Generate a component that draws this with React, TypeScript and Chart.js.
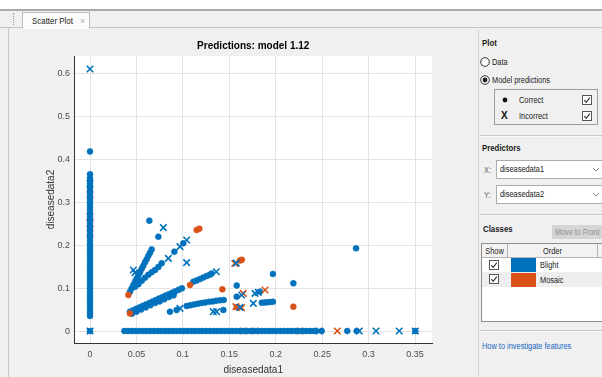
import React, { useEffect, useRef } from "react";
import { Chart, registerables } from "chart.js";
Chart.register(...registerables);

const BLUE = "#0072BD";
const ORANGE = "#D95319";
const FONT = '"Liberation Sans", Arial, Helvetica, sans-serif';

const chartTitle = "Predictions: model 1.12";
const xLabel = "diseasedata1";
const yLabel = "diseasedata2";
const xTicks = [0, 0.05, 0.1, 0.15, 0.2, 0.25, 0.3, 0.35];
const yTicks = [0, 0.1, 0.2, 0.3, 0.4, 0.5, 0.6];
const xRange = [-0.0167, 0.3683];
const yRange = [-0.0279, 0.6403];

// Blight, correct: the column at disease data1 = 0
const columnBlightY = [0, 0.035, 0.042, 0.049, 0.056, 0.063, 0.07, 0.077, 0.084, 0.091, 0.098, 0.105, 0.112, 0.119, 0.126, 0.133, 0.14, 0.147, 0.154, 0.161, 0.168, 0.175, 0.182, 0.189, 0.196, 0.203, 0.21, 0.217, 0.224, 0.231, 0.238, 0.245, 0.252, 0.259, 0.266, 0.273, 0.28, 0.287, 0.294, 0.301, 0.308, 0.315, 0.322, 0.329, 0.336, 0.343, 0.35, 0.356, 0.365, 0.418];
// Mosaic, incorrect: hidden within the column
const columnMosaicY = [0.227, 0.25, 0.266, 0.318];
// Blight, correct: the band at disease data2 = 0
const bandBlightX = [0.037, 0.041, 0.045, 0.049, 0.053, 0.057, 0.061, 0.065, 0.069, 0.073, 0.077, 0.081, 0.085, 0.089, 0.093, 0.097, 0.101, 0.105, 0.109, 0.113, 0.117, 0.121, 0.125, 0.129, 0.133, 0.137, 0.141, 0.145, 0.149, 0.153, 0.157, 0.161, 0.165, 0.169, 0.173, 0.177, 0.181, 0.185, 0.189, 0.193, 0.197, 0.201, 0.205, 0.209, 0.213, 0.217, 0.221, 0.225, 0.229, 0.233, 0.237, 0.241, 0.2435, 0.2495, 0.277, 0.2872, 0.3503];
// Mosaic, incorrect: mostly hidden in the band at disease data2 = 0
const bandMosaicX = [0.165, 0.178, 0.226];

// Blight, correct: other points [x, y]
const blightCorrect: [number, number][] = [
  [0.0431, 0.0916], [0.0449, 0.0993], [0.0467, 0.107], [0.0485, 0.115], [0.0503, 0.122], [0.0521, 0.13], [0.0539, 0.137], [0.0557, 0.145], [0.0574, 0.152], [0.0592, 0.16], [0.061, 0.167], [0.0628, 0.175], [0.0646, 0.182], [0.0664, 0.19], [0.0736, 0.2196], [0.0639, 0.257],
  [0.0485, 0.1033], [0.0521, 0.109], [0.0557, 0.117], [0.0592, 0.124], [0.0628, 0.131], [0.0664, 0.137], [0.07, 0.142], [0.0736, 0.149], [0.0772, 0.1576], [0.0908, 0.1847], [0.1005, 0.2041],
  [0.043, 0.045], [0.0465, 0.0484], [0.05, 0.0518], [0.0535, 0.0552], [0.057, 0.0586], [0.0605, 0.062], [0.064, 0.0654], [0.0675, 0.0688], [0.071, 0.0722], [0.0745, 0.0756], [0.078, 0.079], [0.0815, 0.0824], [0.085, 0.0858], [0.0885, 0.0892], [0.092, 0.0926], [0.0955, 0.096], [0.099, 0.0994],
  [0.045, 0.04], [0.05, 0.045], [0.055, 0.05], [0.06, 0.055], [0.065, 0.06], [0.07, 0.065], [0.075, 0.069], [0.08, 0.074], [0.085, 0.079], [0.09, 0.083],
  [0.1113, 0.1148], [0.1149, 0.1178], [0.1185, 0.121], [0.122, 0.1245], [0.1256, 0.128], [0.129, 0.131], [0.131, 0.134],
  [0.0861, 0.045], [0.0933, 0.0489], [0.1041, 0.0582], [0.108, 0.06], [0.112, 0.062], [0.116, 0.0635], [0.12, 0.065], [0.124, 0.0665], [0.128, 0.068], [0.132, 0.069], [0.136, 0.0705], [0.14, 0.0715], [0.144, 0.0722], [0.1436, 0.0489],
  [0.158, 0.106], [0.158, 0.08], [0.183, 0.0916], [0.197, 0.1327], [0.219, 0.111], [0.2865, 0.1925], [0.185, 0.066], [0.188, 0.0665], [0.191, 0.067], [0.194, 0.0675], [0.197, 0.068],
];
// Mosaic, correct: other points
const mosaicCorrect: [number, number][] = [
  [0.0413, 0.0838], [0.043, 0.041], [0.1149, 0.2352], [0.1177, 0.2383], [0.1077, 0.107], [0.1425, 0.097], [0.1615, 0.164], [0.1635, 0.166], [0.219, 0.0567], [0.158, 0.0555],
];
// Blight, incorrect
const blightIncorrect: [number, number][] = [
  [0, 0.61], [0, 0], [0, 0.343], [0.0467, 0.142], [0.0485, 0.136], [0.079, 0.2406], [0.0844, 0.1692], [0.0969, 0.1964], [0.1041, 0.2119], [0.1041, 0.1591], [0.136, 0.138], [0.0969, 0.0528], [0.1328, 0.045], [0.1364, 0.045], [0.1575, 0.158], [0.1633, 0.0838], [0.1777, 0.0877], [0.1813, 0.09], [0.1759, 0.0644], [0.1615, 0.055], [0.2468, 0], [0.29, 0], [0.308, 0], [0.333, 0], [0.3503, 0],
];
// Mosaic, incorrect
const mosaicIncorrect: [number, number][] = [
  [0.156, 0.1576], [0.165, 0.0877], [0.1885, 0.0955], [0.1572, 0.0567], [0.1633, 0.0543], [0.2663, 0],
];

const pts = (a: [number, number][]) => a.map(([x, y]) => ({ x, y }));

function Txt(p: { x: number; y: number; size?: number; bold?: boolean; color?: string; children: React.ReactNode; w?: number; center?: boolean; sx?: number }) {
  return (
    <div
      style={{
        position: "absolute",
        left: p.x,
        top: p.y - 7,
        height: 14,
        lineHeight: "14px",
        fontSize: p.size ?? 9,
        fontWeight: p.bold ? 700 : 400,
        color: p.color ?? "#1a1a1a",
        whiteSpace: "nowrap",
        width: p.w,
        textAlign: p.center ? "center" : "left",
        transform: `scaleX(${p.sx ?? 0.87})`,
        transformOrigin: p.center ? "center" : "left",
      }}
    >
      {p.children}
    </div>
  );
}

function Check(p: { x: number; y: number }) {
  return (
    <svg style={{ position: "absolute", left: p.x - 5, top: p.y - 5 }} width={10} height={10}>
      <rect x={0.5} y={0.5} width={9} height={9} fill="#fff" stroke="#555" />
      <path d="M2.2 5.2 L4.2 7.3 L7.8 2.6" fill="none" stroke="#333" strokeWidth={1.1} />
    </svg>
  );
}

function Radio(p: { x: number; y: number; on?: boolean }) {
  return (
    <svg style={{ position: "absolute", left: p.x - 5, top: p.y - 5 }} width={10} height={10}>
      <circle cx={5} cy={5} r={4.3} fill="#fff" stroke="#333" />
      {p.on && <circle cx={5} cy={5} r={2.4} fill="#222" />}
    </svg>
  );
}

function Line(p: { x: number; y: number; w: number; h: number; c: string }) {
  return <div style={{ position: "absolute", left: p.x, top: p.y, width: p.w, height: p.h, background: p.c }} />;
}

function Combo(p: { y: number; text: string }) {
  return (
    <div style={{ position: "absolute", left: 496, top: p.y, width: 112, height: 19, background: "#fff", border: "1px solid #adadad", boxSizing: "border-box" }}>
      <div style={{ position: "absolute", left: 3, top: 0, lineHeight: "17px", fontSize: 8.5, color: "#1a1a1a", transform: "scaleX(0.87)", transformOrigin: "left" }}>{p.text}</div>
      <svg style={{ position: "absolute", left: 95, top: 6 }} width={8} height={6}>
        <path d="M1 1 L4 4 L7 1" fill="none" stroke="#8a8a8a" strokeWidth={1} />
      </svg>
    </div>
  );
}

export default function App() {
  const ref = useRef<HTMLCanvasElement>(null);
  useEffect(() => {
    const bg = {
      id: "areaBg",
      beforeDraw(c: any) {
        const a = c.chartArea;
        c.ctx.save();
        c.ctx.fillStyle = "#ffffff";
        c.ctx.fillRect(a.left, a.top, a.right - a.left, a.bottom - a.top);
        c.ctx.restore();
      },
    };
    const axesTitle = {
      id: "axesTitle",
      afterDraw(c: any) {
        const a = c.chartArea;
        const ctx = c.ctx;
        ctx.save();
        ctx.font = `bold 10px ${FONT}`;
        ctx.fillStyle = "#000";
        ctx.textAlign = "center";
        ctx.textBaseline = "middle";
        ctx.fillText(chartTitle, (a.left + a.right) / 2, a.top - 10);
        ctx.restore();
      },
    };
    const dot = (color: string) => ({ pointStyle: "circle", pointRadius: 3, pointBackgroundColor: color, pointBorderColor: color, pointBorderWidth: 0.5 });
    const cross = (color: string) => ({ pointStyle: "crossRot", pointRadius: 4.6, pointBackgroundColor: color, pointBorderColor: color, pointBorderWidth: 1.6 });
    const chart = new Chart(ref.current!, {
      type: "scatter",
      data: {
        datasets: [
          { label: "Blight incorrect", data: pts(blightIncorrect), order: 0, ...cross(BLUE) } as any,
          { label: "Mosaic incorrect", data: pts(mosaicIncorrect), order: 1, ...cross(ORANGE) } as any,
          { label: "Mosaic correct", data: pts(mosaicCorrect), order: 2, ...dot(ORANGE) } as any,
          { label: "Blight correct", data: [...columnBlightY.map((y) => ({ x: 0, y })), ...bandBlightX.map((x) => ({ x, y: 0 })), ...pts(blightCorrect)], order: 3, ...dot(BLUE) } as any,
          { label: "Mosaic incorrect (hidden)", data: [...columnMosaicY.map((y) => ({ x: 0, y })), ...bandMosaicX.map((x) => ({ x, y: 0 }))], order: 4, ...cross(ORANGE) } as any,
        ],
      },
      options: {
        animation: false,
        responsive: false,
        layout: { padding: { left: 0, right: 38, top: 26, bottom: 0 } },
        plugins: {
          legend: { display: false },
          tooltip: { enabled: false },
          title: { display: false },
        },
        scales: {
          x: {
            type: "linear",
            min: xRange[0],
            max: xRange[1],
            afterBuildTicks: (s: any) => { s.ticks = xTicks.map((v) => ({ value: v })); },
            afterFit: (s: any) => { s.height = 34; },
            ticks: { color: "#4d4d4d", font: { family: FONT, size: 9 }, padding: 6.6, callback: (v: any) => String(v), maxRotation: 0, autoSkip: false },
            grid: { color: "#e3e3e3", drawTicks: false },
            border: { display: true, color: "#333", width: 1 },
            title: { display: true, text: xLabel, color: "#333", font: { family: FONT, size: 10 }, padding: { top: 0, bottom: 1 } },
          },
          y: {
            type: "linear",
            min: yRange[0],
            max: yRange[1],
            afterBuildTicks: (s: any) => { s.ticks = yTicks.map((v) => ({ value: v })); },
            afterFit: (s: any) => { s.width = 74.5; },
            ticks: { color: "#4d4d4d", font: { family: FONT, size: 9 }, padding: 4.5, callback: (v: any) => String(v), autoSkip: false },
            grid: { color: "#e3e3e3", drawTicks: false },
            border: { display: true, color: "#333", width: 1 },
            title: { display: true, text: yLabel, color: "#333", font: { family: FONT, size: 10 }, padding: { top: 45, bottom: 0 } },
          },
        },
      } as any,
      plugins: [bg, axesTitle],
    });
    return () => chart.destroy();
  }, []);

  return (
    <div style={{ position: "fixed", left: 0, top: 0, width: 602, height: 377, background: "#f0f0f0", overflow: "hidden", fontFamily: FONT }}>
      <Line x={0} y={0} w={602} h={9} c="#ffffff" />
      <Line x={0} y={9} w={602} h={2} c="#a9a9a9" />
      <Line x={0} y={27} w={602} h={1} c="#c3c3c3" />
      {/* grip */}
      <div style={{ position: "absolute", left: 13, top: 13, width: 1, height: 12, borderLeft: "1px dotted #9a9a9a" }} />
      {/* tab */}
      <div style={{ position: "absolute", left: 22, top: 12, width: 68, height: 17, background: "#fbfbfb", border: "1px solid #bdbdbd", borderBottom: "none", boxSizing: "border-box" }}>
        <div style={{ position: "absolute", left: 9, top: 1, lineHeight: "14px", fontSize: 9, color: "#222", whiteSpace: "nowrap", transform: "scaleX(0.88)", transformOrigin: "left" }}>Scatter Plot</div>
        <div style={{ position: "absolute", left: 57, top: 1, lineHeight: "14px", fontSize: 8.5, color: "#aaa" }}>×</div>
      </div>
      <Line x={8} y={28} w={1} h={349} c="#c9c9c9" />
      <canvas ref={ref} width={470} height={347} style={{ position: "absolute", left: 0, top: 30, width: 470, height: 347 }} />

      {/* right panel */}
      <Line x={478} y={30} w={1} h={347} c="#d2d2d2" />
      <Txt x={482} y={43} bold size={9}>Plot</Txt>
      <Radio x={485} y={62} />
      <Txt x={492} y={62} size={8.5}>Data</Txt>
      <Radio x={485} y={80} on />
      <Txt x={492} y={80} size={8.5}>Model predictions</Txt>
      <div style={{ position: "absolute", left: 494, top: 89, width: 104, height: 36, border: "1px solid #9c9c9c", boxSizing: "border-box" }} />
      <svg style={{ position: "absolute", left: 502, top: 97 }} width={6} height={6}><circle cx={3} cy={3} r={2.4} fill="#111" /></svg>
      <Txt x={519} y={100} size={8.5}>Correct</Txt>
      <Check x={587} y={100} />
      <Txt x={501} y={116} size={10} bold color="#111" sx={1}>X</Txt>
      <Txt x={519} y={116} size={8.5}>Incorrect</Txt>
      <Check x={587} y={116} />
      <Line x={480} y={135} w={122} h={1} c="#c8c8c8" />
      <Line x={480} y={136} w={122} h={1} c="#fafafa" />
      <Txt x={482} y={148} bold size={9}>Predictors</Txt>
      <Txt x={484} y={170} size={8.5} color="#666">X:</Txt>
      <Combo y={160} text="diseasedata1" />
      <Txt x={484} y={195} size={8.5} color="#666">Y:</Txt>
      <Combo y={185} text="diseasedata2" />
      <Line x={480} y={214} w={122} h={1} c="#c8c8c8" />
      <Line x={480} y={215} w={122} h={1} c="#fafafa" />
      <Txt x={483} y={229} bold size={9}>Classes</Txt>
      <div style={{ position: "absolute", left: 552, top: 225, width: 54, height: 14, background: "#d5d5d5", boxSizing: "border-box" }}>
        <div style={{ position: "absolute", left: 3, top: 0, color: "#8d8d8d", fontSize: 8.5, lineHeight: "14px", whiteSpace: "nowrap", transform: "scaleX(0.85)", transformOrigin: "left" }}>Move to Front</div>
      </div>
      {/* table */}
      <div style={{ position: "absolute", left: 481, top: 243, width: 126, height: 79, background: "#fff", border: "1px solid #8e8e8e", boxSizing: "border-box" }} />
      <div style={{ position: "absolute", left: 482, top: 244, width: 124, height: 14, background: "#f2f2f2", borderBottom: "1px solid #b5b5b5", boxSizing: "border-box" }} />
      <Line x={507} y={244} w={1} h={14} c="#b5b5b5" />
      <Line x={597} y={244} w={1} h={14} c="#b5b5b5" />
      <Txt x={482} y={251} size={8.5} w={25} center>Show</Txt>
      <Txt x={508} y={251} size={8.5} w={89} center>Order</Txt>
      <Line x={482} y={258} w={124} h={14} c="#ffffff" />
      <Line x={482} y={272} w={124} h={15} c="#eeeeee" />
      <Check x={494} y={265} />
      <Check x={494} y={279} />
      <Line x={511} y={258} w={25} h={14} c={BLUE} />
      <Line x={511} y={273} w={25} h={14} c={ORANGE} />
      <Txt x={540} y={265} size={8.5}>Blight</Txt>
      <Txt x={540} y={280} size={8.5}>Mosaic</Txt>
      <Line x={480} y={330} w={122} h={1} c="#c8c8c8" />
      <Line x={480} y={331} w={122} h={1} c="#fafafa" />
      <Txt x={482} y={346} size={8.5} color="#1565c0">How to investigate features</Txt>
    </div>
  );
}
